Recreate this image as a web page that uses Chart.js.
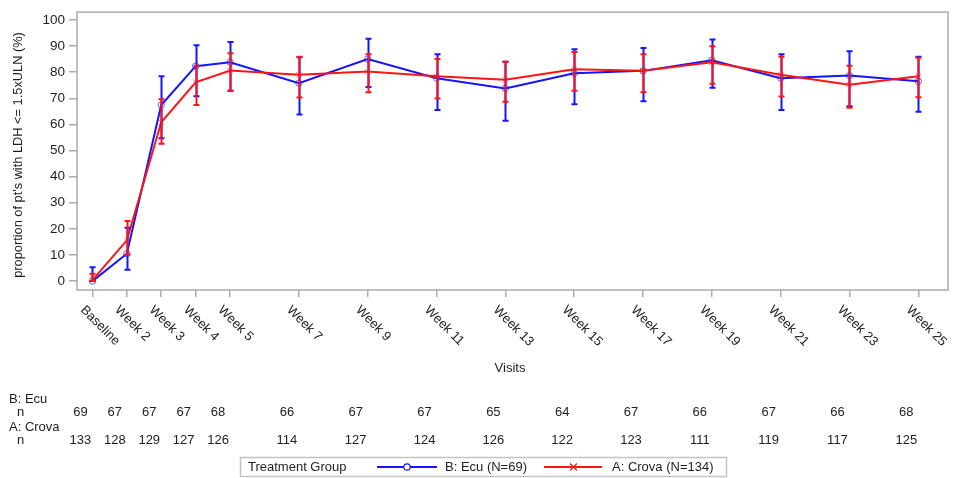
<!DOCTYPE html>
<html><head><meta charset="utf-8">
<script src="https://cdn.jsdelivr.net/npm/chart.js@4/dist/chart.umd.min.js"></script>
<style>html,body{margin:0;padding:0;background:#fff}#wrap{width:956px;height:478px;position:relative}</style>
</head><body><div id="wrap"><canvas id="c" width="956" height="478"></canvas></div>
<script>
// ---- data ----
const weeks = [1, 2, 3, 4, 5, 7, 9, 11, 13, 15, 17, 19, 21, 23, 25];
const visitLabels = ['Baseline','Week 2','Week 3','Week 4','Week 5','Week 7','Week 9','Week 11','Week 13','Week 15','Week 17','Week 19','Week 21','Week 23','Week 25'];
const yTicks = [0, 10, 20, 30, 40, 50, 60, 70, 80, 90, 100];

const ecuMean = [0, 10.5, 67.4, 82.3, 83.8, 75.8, 85.0, 77.7, 73.8, 79.6, 80.5, 84.6, 77.7, 78.7, 76.5];
const ecuLow  = [0, 4.4, 54.7, 70.8, 72.9, 63.8, 74.3, 65.5, 61.4, 67.7, 68.9, 74.0, 65.5, 67.0, 64.8];
const ecuHigh = [5.3, 20.4, 78.4, 90.3, 91.6, 85.7, 92.8, 86.9, 84.0, 88.8, 89.3, 92.5, 86.9, 88.0, 85.9];

const crovaMean = [0.4, 15.6, 60.8, 76.1, 80.6, 79.0, 80.3, 78.4, 77.1, 81.1, 80.5, 83.8, 79.0, 75.2, 78.4];
const crovaLow  = [0, 10.2, 52.6, 67.4, 72.9, 70.3, 72.3, 69.9, 68.7, 72.9, 72.3, 75.6, 70.7, 66.4, 70.4];
const crovaHigh = [2.8, 23.0, 69.6, 82.5, 87.2, 85.9, 86.9, 85.0, 84.0, 87.7, 86.9, 89.9, 85.9, 82.5, 85.5];

const ecuN   = [69, 67, 67, 67, 68, 66, 67, 67, 65, 64, 67, 66, 67, 66, 68];
const crovaN = [133, 128, 129, 127, 126, 114, 127, 124, 126, 122, 123, 111, 119, 117, 125];

const ecuName = 'B: Ecu';
const crovaName = 'A: Crova';
const ecuLegend = 'B: Ecu (N=69)';
const crovaLegend = 'A: Crova (N=134)';
const legendTitle = 'Treatment Group';
const yTitle = "proportion of pt's with LDH <= 1.5xULN (%)";
const xTitle = 'Visits';

// ---- style ----
const FONT = '"Liberation Sans", Arial, sans-serif';
const TXT = '#1e1e1e';
const AXIS = '#ababab';
const BLUE = 'rgb(20,20,255)';
const RED = 'rgb(255,20,20)';

const overlay = {
  id: 'overlay',
  afterDatasetsDraw(chart) {
    const {ctx, scales: {x, y}} = chart;
    const sets = [[ecuLow, ecuHigh, BLUE], [crovaLow, crovaHigh, RED]];
    ctx.save();
    ctx.lineWidth = 2;
    sets.forEach(([lo, hi, col]) => {
      ctx.strokeStyle = col;
      weeks.forEach((w, i) => {
        const px = Math.round(x.getPixelForValue(w)) + 0.5;
        const y1 = y.getPixelForValue(lo[i]);
        const y2 = y.getPixelForValue(hi[i]);
        ctx.beginPath();
        ctx.moveTo(px, y1); ctx.lineTo(px, y2);
        ctx.moveTo(px - 3, y1); ctx.lineTo(px + 3, y1);
        ctx.moveTo(px - 3, y2); ctx.lineTo(px + 3, y2);
        ctx.stroke();
      });
    });
    ctx.restore();
  },
  afterDraw(chart) {
    const {ctx, chartArea: a, scales: {x}} = chart;
    ctx.save();
    // frame
    ctx.strokeStyle = AXIS;
    ctx.lineWidth = 1.5;
    ctx.strokeRect(a.left, a.top, a.right - a.left, a.bottom - a.top);
    // x tick labels rotated
    ctx.fillStyle = TXT;
    ctx.font = '13px ' + FONT;
    ctx.textAlign = 'left';
    ctx.textBaseline = 'middle';
    weeks.forEach((w, i) => {
      const px = x.getPixelForValue(w);
      ctx.save();
      ctx.translate(px - 10, 308);
      ctx.rotate(Math.PI / 4);
      ctx.fillText(visitLabels[i], 0, 0);
      ctx.restore();
    });
    // axis titles
    ctx.textAlign = 'center';
    ctx.fillText(xTitle, 510, 368);
    ctx.save();
    ctx.font = '12.8px ' + FONT;
    ctx.translate(18, 155);
    ctx.rotate(-Math.PI / 2);
    ctx.fillText(yTitle, 0, 0);
    ctx.restore();
    // n table
    ctx.font = '13px ' + FONT;
    ctx.textAlign = 'left';
    ctx.fillText(ecuName, 9, 399);
    ctx.fillText('n', 17, 412);
    ctx.fillText(crovaName, 9, 427);
    ctx.fillText('n', 17, 440);
    ctx.textAlign = 'center';
    weeks.forEach((w, i) => {
      const px = x.getPixelForValue(w) - 12;
      ctx.fillText(String(ecuN[i]), px, 412);
      ctx.fillText(String(crovaN[i]), px, 440);
    });
    // legend
    ctx.strokeStyle = '#c4c4c4';
    ctx.lineWidth = 1.5;
    ctx.strokeRect(240.5, 457.5, 486, 19);
    ctx.textAlign = 'left';
    ctx.fillStyle = TXT;
    const ly = 467;
    ctx.fillText(legendTitle, 248, ly);
    ctx.lineWidth = 2;
    ctx.strokeStyle = BLUE;
    ctx.beginPath(); ctx.moveTo(377, ly); ctx.lineTo(437, ly); ctx.stroke();
    ctx.lineWidth = 1.2;
    ctx.fillStyle = '#fff';
    ctx.beginPath(); ctx.arc(407, ly, 3.2, 0, Math.PI * 2); ctx.fill(); ctx.stroke();
    ctx.fillStyle = TXT;
    ctx.fillText(ecuLegend, 445, ly);
    ctx.lineWidth = 2;
    ctx.strokeStyle = RED;
    ctx.beginPath(); ctx.moveTo(544, ly); ctx.lineTo(602, ly); ctx.stroke();
    ctx.lineWidth = 1.2;
    ctx.beginPath();
    ctx.moveTo(570, ly - 3.5); ctx.lineTo(577, ly + 3.5);
    ctx.moveTo(577, ly - 3.5); ctx.lineTo(570, ly + 3.5);
    ctx.stroke();
    ctx.fillText(crovaLegend, 612, ly);
    ctx.restore();
  }
};

new Chart(document.getElementById('c'), {
  type: 'line',
  data: {
    datasets: [
      {
        label: ecuLegend,
        data: weeks.map((w, i) => ({x: w, y: ecuMean[i]})),
        borderColor: BLUE, backgroundColor: 'rgba(255,255,255,0)',
        borderWidth: 2, pointStyle: 'circle', pointRadius: 3.2,
        pointBorderWidth: 1, pointBorderColor: 'rgba(40,40,255,0.7)', pointBackgroundColor: 'rgba(255,255,255,0)',
        tension: 0, order: 2
      },
      {
        label: crovaLegend,
        data: weeks.map((w, i) => ({x: w, y: crovaMean[i]})),
        borderColor: RED, backgroundColor: 'rgba(255,255,255,0)',
        borderWidth: 2, pointStyle: 'crossRot', pointRadius: 4,
        pointBorderWidth: 1, pointBorderColor: 'rgba(255,60,60,0.7)',
        tension: 0, order: 1
      }
    ]
  },
  options: {
    responsive: false,
    animation: false,
    events: [],
    layout: {padding: {top: 8, right: 8, left: 0, bottom: 0}},
    plugins: {legend: {display: false}, tooltip: {enabled: false}},
    scales: {
      x: {
        type: 'linear', min: 0.552, max: 25.863,
        afterBuildTicks: s => { s.ticks = weeks.map(v => ({value: v})); },
        afterFit: s => { s.height = 188; },
        ticks: {display: false},
        grid: {display: true, drawOnChartArea: false, drawTicks: true, tickLength: 7, color: AXIS, lineWidth: 1.5},
        border: {display: false}
      },
      y: {
        type: 'linear', min: -3.4, max: 103.0,
        afterBuildTicks: s => { s.ticks = yTicks.map(v => ({value: v})); },
        afterFit: s => { s.width = 77; },
        ticks: {color: TXT, font: {family: FONT, size: 13.5}, padding: 4},
        grid: {display: true, drawOnChartArea: false, drawTicks: true, tickLength: 8, color: AXIS, lineWidth: 1.5},
        border: {display: false}
      }
    }
  },
  plugins: [overlay]
});
</script></body></html>
